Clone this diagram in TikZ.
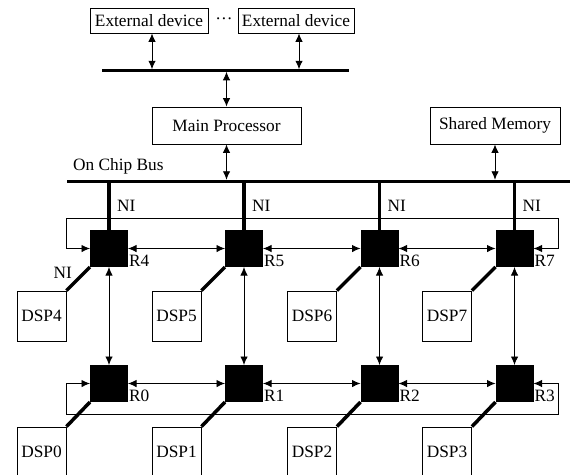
\documentclass[tikz,border=0pt]{standalone}
\usepackage{fontspec}
\setmainfont{Liberation Serif}
\usetikzlibrary{arrows.meta,calc}
\begin{document}
\begin{tikzpicture}[x=1pt,y=-1pt,
  every node/.style={font=\fontsize{17.3pt}{20pt}\selectfont},
  box/.style={draw,line width=0.9pt,inner sep=0pt,align=center},
  router/.style={fill=black,inner sep=0pt,outer sep=0pt,minimum width=38pt,minimum height=37pt},
  busbar/.style={fill=black,inner sep=0pt,outer sep=0pt},
  conn/.style={line width=0.9pt},
  dar/.style={conn,{Latex[length=8.5pt,width=7.5pt]}-{Latex[length=8.5pt,width=7.5pt]}},
  nilink/.style={line width=3.5pt},
  lbl/.style={inner sep=0pt}
]
\useasboundingbox (0,0) rectangle (570,474);
\clip (0,0) rectangle (570,474);

% top part
\node[box,minimum width=118pt,minimum height=25pt] (ext1) at (149,20.5) {External device};
\node[lbl,anchor=base] (dots) at (224,24) {\textperiodcentered\textperiodcentered\textperiodcentered};
\node[box,minimum width=116pt,minimum height=25pt] (ext2) at (296,20.5) {External device};
\node[busbar,minimum width=247pt,minimum height=2.5pt] (topbus) at (225.5,70.5) {};
\node[box,minimum width=149pt,minimum height=37pt] (mp) at (226.5,125.5) {Main Processor};
\node[box,minimum width=130pt,minimum height=37pt] (sm) at (495,125.5) {Shared Memory};
\node[busbar,minimum width=503pt,minimum height=3.5pt] (bus) at (318.5,181.5) {};
\node[lbl,anchor=base west] (ocb) at (73,170) {On Chip Bus};

\coordinate (e1) at ($(ext1.south)+(3,0)$);
\coordinate (e2) at ($(ext2.south)+(3,0)$);
\draw[dar] (e1) -- (e1 |- topbus.north);
\draw[dar] (e2) -- (e2 |- topbus.north);
\draw[dar] (mp.north |- topbus.south) -- (mp.north);
\draw[dar] (mp.south) -- (mp.south |- bus.north);
\draw[dar] (sm.south) -- (sm.south |- bus.north);

% routers
\foreach \n/\x/\y in {4/109/248.5,5/244/248.5,6/379.5/248.5,7/514.5/248.5,
                      0/109/383.5,1/244/383.5,2/379.5/383.5,3/514.5/383.5}{
  \node[router] (r\n) at (\x,\y) {};
  \node[lbl,anchor=base west] (rl\n) at ($(r\n.south east)+(1,-1)$) {R\n};
}

% NI links to the bus
\foreach \n in {4,5,6,7}{
  \draw[nilink] (r\n.north) -- (r\n.north |- bus.center);
  \node[lbl,anchor=west] (ni\n) at ($(r\n.north)+(8,-24)$) {NI};
}

% ring loops
\coordinate (lt) at (66,218);
\coordinate (rt) at (558,218);
\coordinate (lb) at (66,414);
\coordinate (rb) at (558,414);
\draw[dar] (r4.west) -| (lt) -- (rt) |- (r7.east);
\draw[dar] (r0.west) -| (lb) -- (rb) |- (r3.east);

% mesh links
\draw[dar] (r4) -- (r5);
\draw[dar] (r5) -- (r6);
\draw[dar] (r6) -- (r7);
\draw[dar] (r0) -- (r1);
\draw[dar] (r1) -- (r2);
\draw[dar] (r2) -- (r3);
\draw[dar] (r4) -- (r0);
\draw[dar] (r5) -- (r1);
\draw[dar] (r6) -- (r2);
\draw[dar] (r7) -- (r3);

% DSPs
\foreach \n/\x/\y in {4/41.5/316,5/176.5/316,6/312/316,7/447/316,
                      0/41.5/452,1/176.5/452,2/312/452,3/447/452}{
  \node[box,minimum width=49pt,minimum height=50pt] (d\n) at (\x,\y) {DSP\n};
  \draw[nilink] (d\n.north east) -- (r\n.south west);
}
\node[lbl,anchor=east] (nid) at (72,273) {NI};
\end{tikzpicture}
\end{document}
